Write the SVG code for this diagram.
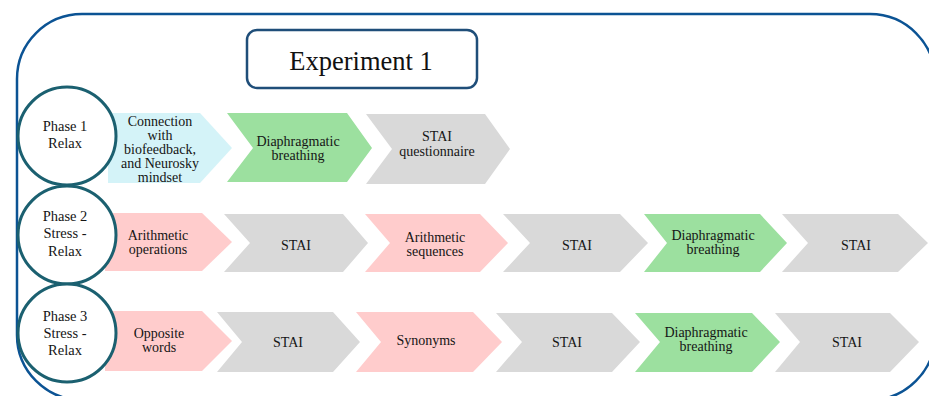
<svg xmlns="http://www.w3.org/2000/svg" width="929" height="396" viewBox="0 0 929 396">
<style>
.t{font-family:"Liberation Serif","Times New Roman",serif;font-size:14px;fill:#151515;text-anchor:middle}
.ph{font-family:"Liberation Serif","Times New Roman",serif;font-size:14.5px;fill:#151515;text-anchor:middle}
.ttl{font-family:"Liberation Serif","Times New Roman",serif;font-size:26.5px;fill:#111;text-anchor:middle}
.blue{fill:#d4f3f8}
.green{fill:#9ce09f}
.pink{fill:#ffcccc}
.gray{fill:#d9d9d9}
.circ{fill:#fff;stroke:#1b6070;stroke-width:3}
</style>
<rect x="17" y="14" width="918" height="386" rx="65" ry="65" fill="none" stroke="#0b5394" stroke-width="2.5"/>
<g id="title">
<rect x="247" y="30" width="230" height="58" rx="10" ry="10" fill="#fff" stroke="#1f4e79" stroke-width="2.5"/>
<text class="ttl" x="361" y="70">Experiment 1</text>
</g>
<g id="connectors"></g>
<g id="row1">
<g id="r1s1"><polygon class="blue" points="108,113 200,113 232,148 200,183 108,183"/>
<text class="t" x="160" y="126">Connection</text><text class="t" x="160" y="140">with</text><text class="t" x="160" y="154">biofeedback,</text><text class="t" x="160" y="168">and  Neurosky</text><text class="t" x="160" y="182">mindset</text></g>
<g id="r1s2"><polygon class="green" points="227,113 347,113 372,148 347,182 227,182 253,148"/>
<text class="t" x="298" y="146">Diaphragmatic</text><text class="t" x="298" y="160">breathing</text></g>
<g id="r1s3"><polygon class="gray" points="366,114 485,114 510,149 485,184 366,184 392,149"/>
<text class="t" x="437" y="141">STAI</text><text class="t" x="437" y="156">questionnaire</text></g>
</g>
<g id="row2">
<g id="r2s1"><polygon class="pink" points="105,213 202,213 232,242 202,271 105,271"/>
<text class="t" x="158" y="240">Arithmetic</text><text class="t" x="158" y="254">operations</text></g>
<g id="r2s2"><polygon class="gray" points="224,214 343,214 368,243 343,272 224,272 250,243"/>
<text class="t" x="296" y="250">STAI</text></g>
<g id="r2s3"><polygon class="pink" points="365,214 480,214 508,243 480,272 365,272 390,243"/>
<text class="t" x="435" y="242">Arithmetic</text><text class="t" x="435" y="256">sequences</text></g>
<g id="r2s4"><polygon class="gray" points="503,214 620,214 648,243 620,272 503,272 530,243"/>
<text class="t" x="577" y="250">STAI</text></g>
<g id="r2s5"><polygon class="green" points="644,214 760,214 787,243 760,272 644,272 667,243"/>
<text class="t" x="713" y="240">Diaphragmatic</text><text class="t" x="713" y="254">breathing</text></g>
<g id="r2s6"><polygon class="gray" points="782,214 898,214 928,243 898,272 782,272 808,243"/>
<text class="t" x="856" y="250">STAI</text></g>
</g>
<g id="row3">
<g id="r3s1"><polygon class="pink" points="105,311 202,311 232,341 202,371 105,371"/>
<text class="t" x="159" y="338">Opposite</text><text class="t" x="159" y="352">words</text></g>
<g id="r3s2"><polygon class="gray" points="217,312 333,312 360,342 333,372 217,372 242,342"/>
<text class="t" x="288" y="347">STAI</text></g>
<g id="r3s3"><polygon class="pink" points="356,312 473,312 502,342 473,372 356,372 381,342"/>
<text class="t" x="426" y="345">Synonyms</text></g>
<g id="r3s4"><polygon class="gray" points="496,313 612,313 640,342 612,372 496,372 522,342"/>
<text class="t" x="567" y="347">STAI</text></g>
<g id="r3s5"><polygon class="green" points="635,313 752,313 780,342 752,372 635,372 660,342"/>
<text class="t" x="706" y="337">Diaphragmatic</text><text class="t" x="706" y="351">breathing</text></g>
<g id="r3s6"><polygon class="gray" points="775,313 890,313 919,342 890,372 775,372 800,342"/>
<text class="t" x="847" y="347">STAI</text></g>
</g>
<g id="phase1"><circle class="circ" cx="67" cy="136" r="49"/>
<text class="ph" x="65" y="131">Phase 1</text><text class="ph" x="65" y="148">Relax</text></g>
<g id="phase2"><circle class="circ" cx="67" cy="235" r="49"/>
<text class="ph" x="65" y="221">Phase 2</text><text class="ph" x="65" y="238">Stress -</text><text class="ph" x="65" y="256">Relax</text></g>
<g id="phase3"><circle class="circ" cx="67" cy="333" r="49"/>
<text class="ph" x="65" y="321">Phase 3</text><text class="ph" x="65" y="338">Stress -</text><text class="ph" x="65" y="355">Relax</text></g>
</svg>
